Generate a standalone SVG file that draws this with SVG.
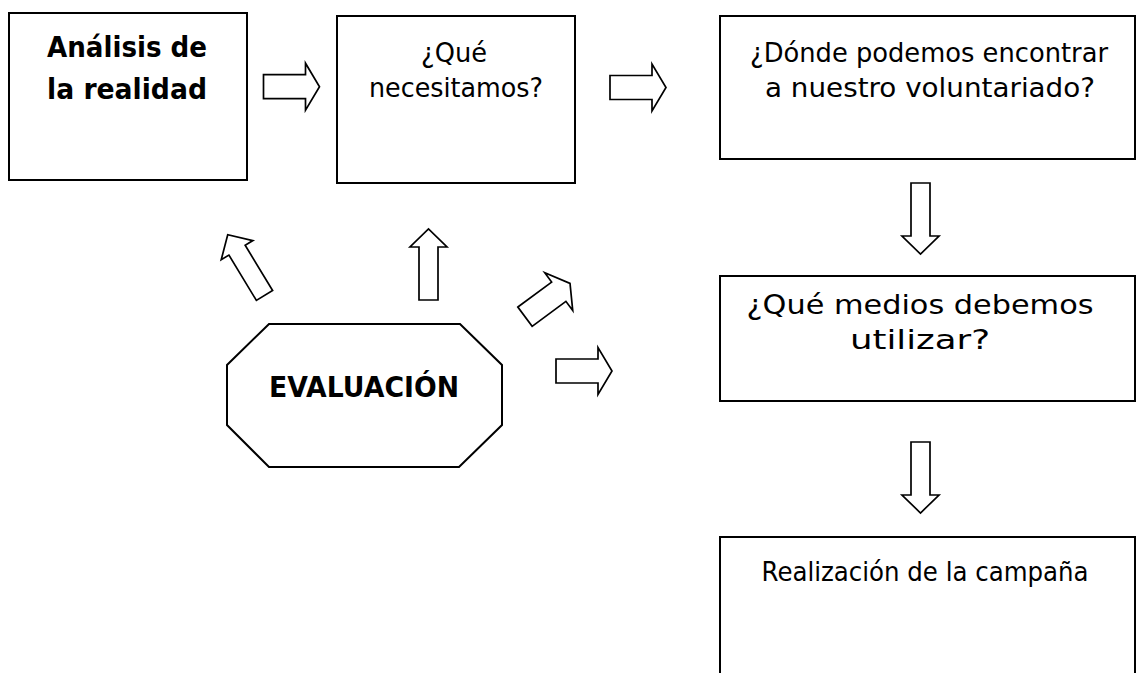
<svg xmlns="http://www.w3.org/2000/svg" xmlns:xlink="http://www.w3.org/1999/xlink" width="1137" height="673" viewBox="0 0 1137 673">
  <style>
    .box { fill: #fff; stroke: #000; stroke-width: 2; }
    .arrow { fill: #fff; stroke: #000; stroke-width: 1.7; stroke-linejoin: miter; }
    .t { font-family: "DejaVu Sans", "Liberation Sans", sans-serif; font-size: 27px; fill: #000; text-anchor: middle; }
    .b { font-weight: bold; font-size: 28px; }
  </style>
  <defs>
    <path id="arrS" d="M0,-12 L42,-12 L42,-23.5 L56,0 L42,23.5 L42,12 L0,12 Z"/>
    <path id="arrL" d="M0,-9.5 L53,-9.5 L53,-18.5 L71,0 L53,18.5 L53,9.5 L0,9.5 Z"/>
  </defs>
  <rect width="1137" height="673" fill="#fff"/>

  <g id="connectors">
    <use xlink:href="#arrS" class="arrow" transform="translate(263.5,86.7)"/>
    <use xlink:href="#arrS" class="arrow" transform="translate(610,87.5)"/>
    <use xlink:href="#arrL" class="arrow" transform="translate(920.5,183) rotate(90)"/>
    <use xlink:href="#arrL" class="arrow" transform="translate(920.5,442) rotate(90)"/>
    <use xlink:href="#arrL" class="arrow" transform="translate(264.5,295.5) rotate(-121.2)"/>
    <use xlink:href="#arrL" class="arrow" transform="translate(428.5,300) rotate(-90)"/>
    <use xlink:href="#arrS" class="arrow" transform="translate(525,316.7) rotate(-36.5)"/>
    <use xlink:href="#arrS" class="arrow" transform="translate(556,371)"/>
  </g>

  <g id="analisis">
    <rect class="box" x="9" y="13" width="238" height="167"/>
    <text class="t b" x="127" y="57" textLength="160" lengthAdjust="spacingAndGlyphs">Análisis de</text>
    <text class="t b" x="127" y="99" textLength="160" lengthAdjust="spacingAndGlyphs">la realidad</text>
  </g>

  <g id="necesitamos">
    <rect class="box" x="337" y="16" width="238" height="167"/>
    <text class="t" x="454" y="62" textLength="66" lengthAdjust="spacingAndGlyphs">¿Qué</text>
    <text class="t" x="456" y="97" textLength="174" lengthAdjust="spacingAndGlyphs">necesitamos?</text>
  </g>

  <g id="donde">
    <rect class="box" x="720" y="16" width="415" height="143"/>
    <text class="t" x="929" y="62" textLength="358" lengthAdjust="spacingAndGlyphs">¿Dónde podemos encontrar</text>
    <text class="t" x="930" y="97" textLength="330" lengthAdjust="spacingAndGlyphs">a nuestro voluntariado?</text>
  </g>

  <g id="medios">
    <rect class="box" x="720" y="276" width="415" height="125"/>
    <text class="t" x="920" y="314" textLength="347" lengthAdjust="spacingAndGlyphs">¿Qué medios debemos</text>
    <text class="t" x="920" y="349" textLength="140" lengthAdjust="spacingAndGlyphs">utilizar?</text>
  </g>

  <g id="campana">
    <rect class="box" x="720" y="537" width="415" height="200"/>
    <text class="t" x="925" y="581" textLength="327" lengthAdjust="spacingAndGlyphs">Realización de la campaña</text>
  </g>

  <g id="evaluacion">
    <polygon class="box" points="269,324 460,324 502,365 502,425 459,467 269,467 227,425 227,365"/>
    <text class="t b" x="364" y="397" textLength="190" lengthAdjust="spacingAndGlyphs">EVALUACIÓN</text>
  </g>
</svg>
